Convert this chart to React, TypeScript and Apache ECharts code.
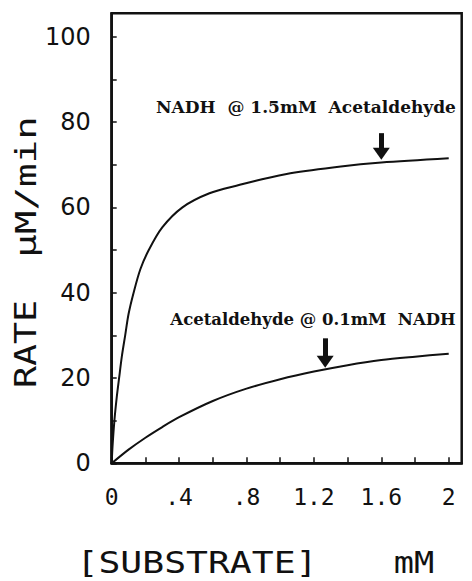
import React, { useEffect, useRef } from "react";
import * as echarts from "echarts";

// Substrate concentration (mM) and rate (µM/min)
const nadhX = [0, 0.005, 0.016, 0.03, 0.044, 0.06, 0.08, 0.1, 0.13, 0.17, 0.22, 0.3, 0.42, 0.58, 0.76, 0.85, 1.06, 1.36, 1.6, 2.0];
const nadhY = [0, 4, 10, 15.5, 20, 25, 30, 35, 40, 45.5, 50, 55.3, 60, 63.3, 65.3, 66.2, 68, 69.6, 70.5, 71.5];

const acetX = [0, 0.1, 0.2, 0.3, 0.4, 0.6, 0.8, 1.0, 1.2, 1.4, 1.6, 1.8, 2.0];
const acetY = [0, 3.2, 6.0, 8.5, 10.8, 14.6, 17.5, 19.7, 21.5, 23.0, 24.2, 25.0, 25.7];

const xTickLabels = ["0", ".4", ".8", "1.2", "1.6", "2"];
const yTickLabels = ["0", "20", "40", "60", "80", "100"];

const labelNadh = "NADH  @ 1.5mM  Acetaldehyde";
const labelAcet = "Acetaldehyde @ 0.1mM  NADH";

export default function App() {
  const ref = useRef<HTMLDivElement>(null);
  useEffect(() => {
    if (!ref.current) return;
    const chart = echarts.init(ref.current, null, { renderer: "svg" });
    const pair = (xs: number[], ys: number[]) => xs.map((x, i) => [x, ys[i]]);
    const ink = "#111";
    const arrowLine = (from: number[], to: number[]) => ({
      silent: true,
      symbol: ["none", "triangle"],
      symbolSize: [17, 12],
      label: { show: false },
      lineStyle: { color: ink, width: 5, type: "solid" },
      data: [[{ coord: from }, { coord: to }]],
    });
    chart.setOption({
      animation: false,
      backgroundColor: "#fff",
      grid: {
        left: 111.7,
        top: 13.3,
        right: 10.3,
        bottom: 117.7,
        show: true,
        borderColor: ink,
        borderWidth: 2.5,
        containLabel: false,
      },
      xAxis: {
        type: "value",
        min: 0,
        max: 2.077,
        interval: 0.2,
        splitLine: { show: false },
        axisLine: { show: true, lineStyle: { color: ink, width: 2.5 } },
        axisTick: { show: true, inside: true, length: 6, lineStyle: { color: ink, width: 1.5 } },
        axisLabel: {
          showMaxLabel: false,
          margin: 22,
          color: ink,
          fontFamily: "DejaVu Sans Mono",
          fontSize: 23,
          formatter: (v: number) => {
            const k = Math.round(v * 10);
            if (Math.abs(v * 10 - k) > 1e-6 || k % 4 !== 0 || k > 20) return "";
            return xTickLabels[k / 4];
          },
        },
      },
      yAxis: {
        type: "value",
        min: 0,
        max: 105.5,
        interval: 10,
        splitLine: { show: false },
        axisLine: { show: true, lineStyle: { color: ink, width: 2.5 } },
        axisTick: { show: true, inside: true, length: 5, lineStyle: { color: ink, width: 1.5 } },
        axisLabel: {
          showMaxLabel: false,
          margin: 21,
          color: ink,
          fontFamily: "DejaVu Sans",
          fontSize: 24,
          formatter: (v: number) => {
            const k = Math.round(v);
            if (Math.abs(v - k) > 1e-6 || k % 20 !== 0 || k > 100) return "";
            return yTickLabels[k / 20];
          },
        },
      },
      series: [
        {
          type: "line",
          data: pair(nadhX, nadhY),
          smooth: 0.3,
          showSymbol: false,
          lineStyle: { color: ink, width: 2 },
          markLine: arrowLine([1.6, 77.4], [1.6, 72.6]),
        },
        {
          type: "line",
          data: pair(acetX, acetY),
          smooth: 0.3,
          showSymbol: false,
          lineStyle: { color: ink, width: 2 },
          markLine: arrowLine([1.267, 29.3], [1.267, 23.8]),
        },
      ],
      graphic: [
        {
          type: "text",
          x: 306,
          y: 107,
          style: {
            text: labelNadh,
            fontFamily: "DejaVu Serif",
            fontWeight: "bold",
            fontSize: 17,
            fill: ink,
            textAlign: "center",
            textVerticalAlign: "middle",
          },
        },
        {
          type: "text",
          x: 313,
          y: 319,
          style: {
            text: labelAcet,
            fontFamily: "DejaVu Serif",
            fontWeight: "bold",
            fontSize: 16.5,
            fill: ink,
            textAlign: "center",
            textVerticalAlign: "middle",
          },
        },
        {
          type: "text",
          x: 197,
          y: 563,
          scaleX: 1.3,
          scaleY: 1.05,
          style: {
            text: "[SUBSTRATE]",
            fontFamily: "DejaVu Sans Mono",
            fontSize: 28,
            fill: ink,
            textAlign: "center",
            textVerticalAlign: "middle",
          },
        },
        {
          type: "text",
          x: 414,
          y: 563,
          scaleX: 1.2,
          scaleY: 1.05,
          style: {
            text: "mM",
            fontFamily: "DejaVu Sans Mono",
            fontSize: 28,
            fill: ink,
            textAlign: "center",
            textVerticalAlign: "middle",
          },
        },
        {
          type: "text",
          x: 26,
          y: 344,
          rotation: Math.PI / 2,
          scaleX: 1.22,
          style: {
            text: "RATE",
            fontFamily: "DejaVu Sans Mono",
            fontSize: 30,
            fill: ink,
            textAlign: "center",
            textVerticalAlign: "middle",
          },
        },
        {
          type: "text",
          x: 26,
          y: 187,
          rotation: Math.PI / 2,
          scaleX: 1.4,
          style: {
            text: "μM/min",
            fontFamily: "DejaVu Sans Mono",
            fontSize: 28,
            fill: ink,
            textAlign: "center",
            textVerticalAlign: "middle",
          },
        },
      ],
    });
    return () => chart.dispose();
  }, []);
  return (
    <div
      ref={ref}
      style={{ position: "fixed", left: 0, top: 0, width: 472, height: 581 }}
    />
  );
}
